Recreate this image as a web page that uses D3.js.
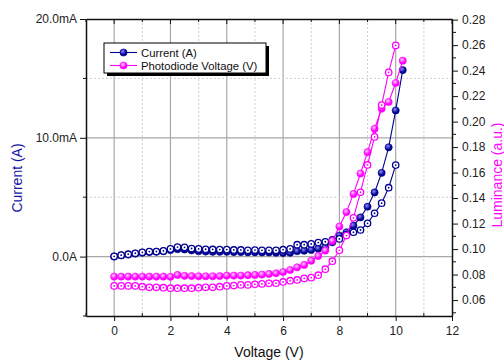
<!DOCTYPE html>
<html>
<head>
<meta charset="utf-8">
<script src="https://cdn.jsdelivr.net/npm/d3@7"></script>
<style>
  body { margin: 0; background: #fff; }
  svg { font-family: "Liberation Sans", Arial, sans-serif; }
</style>
</head>
<body>
<div id="chart"></div>
<script>
// sweep voltages (V)
const voltage = [0, 0.25, 0.5, 0.75, 1, 1.25, 1.5, 1.75, 2, 2.25, 2.5, 2.75, 3, 3.25, 3.5, 3.75,
  4, 4.25, 4.5, 4.75, 5, 5.25, 5.5, 5.75, 6, 6.25, 6.5, 6.75, 7, 7.25, 7.5, 7.75,
  8, 8.25, 8.5, 8.75, 9, 9.25, 9.5, 9.75, 10, 10.25];

// current, mA (filled = forward sweep, open = second sweep)
const currentFilled = [0.0, 0.1, 0.17, 0.25, 0.33, 0.38, 0.4, 0.45, 0.55, 0.62, 0.6, 0.52, 0.45, 0.42, 0.4, 0.4,
  0.4, 0.38, 0.38, 0.36, 0.36, 0.35, 0.35, 0.33, 0.3, 0.32, 0.45, 0.5, 0.56, 0.67, 0.79, 1.2,
  1.77, 2.05, 2.6, 3.3, 4.2, 5.4, 7.05, 9.2, 12.3, 15.7];
const currentOpen = [0.02, 0.12, 0.2, 0.28, 0.36, 0.42, 0.43, 0.48, 0.65, 0.8, 0.78, 0.68, 0.65, 0.62, 0.6, 0.59,
  0.59, 0.56, 0.56, 0.53, 0.55, 0.53, 0.53, 0.53, 0.58, 0.65, 1.0, 1.0, 1.07, 1.18, 1.25, 1.4,
  1.49, 1.85, 2.05, 2.24, 2.8, 3.65, 4.5, 5.8, 7.7];

// photodiode voltage / luminance (a.u.)
const lumFilled = [0.0784, 0.0784, 0.0784, 0.0784, 0.0784, 0.0784, 0.0784, 0.0784, 0.0782, 0.0797, 0.079, 0.0788, 0.0787, 0.0787, 0.0787, 0.0788,
  0.0792, 0.0792, 0.0792, 0.0795, 0.0797, 0.08, 0.0805, 0.081, 0.082, 0.0836, 0.0857, 0.0876, 0.0909, 0.0946, 0.0988, 0.1064,
  0.1177, 0.129, 0.1433, 0.1593, 0.176, 0.1944, 0.2101, 0.2154, 0.2303, 0.2478];
const lumOpen = [0.0711, 0.0711, 0.0711, 0.0711, 0.0705, 0.07, 0.07, 0.0697, 0.0693, 0.0693, 0.0693, 0.0693, 0.0697, 0.07, 0.07, 0.0705,
  0.0711, 0.0714, 0.0719, 0.0719, 0.0724, 0.0727, 0.0732, 0.0732, 0.0742, 0.0752, 0.0758, 0.077, 0.0776, 0.0795, 0.0842, 0.0905,
  0.099, 0.1106, 0.1245, 0.1446, 0.166, 0.188, 0.213, 0.2386, 0.2598];

const leftTicks = [0, 10, 20];
const leftTickLabels = ["0.0A", "10.0mA", "20.0mA"];
const rightTicks = [0.06, 0.08, 0.10, 0.12, 0.14, 0.16, 0.18, 0.20, 0.22, 0.24, 0.26, 0.28];
const xTicks = [0, 2, 4, 6, 8, 10, 12];
const legendLabels = ["Current (A)", "Photodiode Voltage (V)"];

const NAVY = "#00008f";
const MAGENTA = "#ff00ff";

const margin = {top: 19, right: 52, bottom: 46, left: 86};
const W = 504, H = 362;
const width = W - margin.left - margin.right;
const height = H - margin.top - margin.bottom;

const svg = d3.select("#chart").append("svg")
  .attr("width", W).attr("height", H);

const defs = svg.append("defs");
function sphere(id, light, base) {
  const grad = defs.append("radialGradient").attr("id", id)
    .attr("cx", "40%").attr("cy", "35%").attr("r", "65%");
  grad.append("stop").attr("offset", "0%").attr("stop-color", light);
  grad.append("stop").attr("offset", "70%").attr("stop-color", base);
}
sphere("navyBall", "#8c8cff", NAVY);
sphere("pinkBall", "#ffd0ff", MAGENTA);

const g = svg.append("g").attr("transform", `translate(${margin.left},${margin.top})`);

const x = d3.scaleLinear().domain([-1, 12]).range([0, width]);
const yL = d3.scaleLinear().domain([-5, 20]).range([height, 0]);
const yR = d3.scaleLinear().domain([0.0475, 0.2805]).range([height, 0]);

// grid
const grid = g.append("g");
d3.range(0, 12, 1).forEach(v => {
  grid.append("line")
    .attr("x1", x(v)).attr("x2", x(v)).attr("y1", 0).attr("y2", height)
    .attr("stroke", v % 2 === 0 ? "#a8a8a8" : "#cfcfcf")
    .attr("stroke-width", v % 2 === 0 ? 1.2 : 1)
    .attr("stroke-dasharray", v % 2 === 0 ? null : "2,2");
});
[0, 5, 10, 15].forEach(v => {
  grid.append("line")
    .attr("x1", 0).attr("x2", width).attr("y1", yL(v)).attr("y2", yL(v))
    .attr("stroke", v % 10 === 0 ? "#a8a8a8" : "#cfcfcf")
    .attr("stroke-width", v % 10 === 0 ? 1.2 : 1)
    .attr("stroke-dasharray", v % 10 === 0 ? null : "2,2");
});

// axes
const axisColor = "#111";
const fontSize = "12px";

const axBottom = g.append("g").attr("transform", `translate(0,${height})`)
  .call(d3.axisBottom(x).tickValues(xTicks).tickSize(5).tickSizeOuter(0).tickPadding(5));
axBottom.append("g").selectAll("line").data([-1, 1, 3, 5, 7, 9, 11]).join("line")
  .attr("x1", d => x(d)).attr("x2", d => x(d)).attr("y1", 0).attr("y2", -3)
  .attr("stroke", axisColor);

const axTop = g.append("g")
  .call(d3.axisTop(x).tickValues(d3.range(-1, 13)).tickSize(0).tickFormat(""));
axTop.append("g").selectAll("line").data(d3.range(-1, 13)).join("line")
  .attr("x1", d => x(d)).attr("x2", d => x(d)).attr("y1", 0)
  .attr("y2", d => d % 2 === 0 ? 5 : 3)
  .attr("stroke", axisColor);

const axLeft = g.append("g")
  .call(d3.axisLeft(yL).tickValues(leftTicks).tickSize(6).tickSizeOuter(0).tickPadding(3)
    .tickFormat((d, i) => leftTickLabels[i]));
axLeft.append("g").selectAll("line").data([-5, 5, 15]).join("line")
  .attr("x1", -3).attr("x2", 0).attr("y1", d => yL(d)).attr("y2", d => yL(d))
  .attr("stroke", axisColor);

const axRight = g.append("g").attr("transform", `translate(${width},0)`)
  .call(d3.axisRight(yR).tickValues(rightTicks).tickSize(6).tickSizeOuter(0).tickPadding(4)
    .tickFormat(d3.format(".2f")));
axRight.append("g").selectAll("line").data([0.05, 0.07, 0.09, 0.11, 0.13, 0.15, 0.17, 0.19, 0.21, 0.23, 0.25, 0.27]).join("line")
  .attr("x1", 0).attr("x2", 4).attr("y1", d => yR(d)).attr("y2", d => yR(d))
  .attr("stroke", axisColor);

[axBottom, axTop, axLeft, axRight].forEach(a => {
  a.select(".domain").attr("stroke", axisColor).attr("stroke-width", 1.5);
  a.selectAll(".tick line").attr("stroke", axisColor);
  a.selectAll(".tick text").attr("font-size", fontSize).attr("fill", "#222")
    .attr("font-family", "'Liberation Sans', Arial, sans-serif");
});

// series
function series(ys, scaleY, color, filled, ball) {
  const pts = ys.map((v, i) => [voltage[i], v]);
  const sg = g.append("g");
  sg.append("path").datum(pts)
    .attr("fill", "none").attr("stroke", color).attr("stroke-width", 1.1)
    .attr("d", d3.line().x(d => x(d[0])).y(d => scaleY(d[1])));
  const m = sg.selectAll("g.pt").data(pts).join("g")
    .attr("transform", d => `translate(${x(d[0])},${scaleY(d[1])})`);
  if (filled) {
    m.append("circle").attr("r", 3.6).attr("fill", `url(#${ball})`)
      .attr("stroke", color).attr("stroke-width", 0.6);
  } else {
    m.append("circle").attr("r", 3.2).attr("fill", "#fff")
      .attr("stroke", color).attr("stroke-width", 1.3);
    m.append("circle").attr("r", 0.9).attr("fill", color);
  }
}
series(currentFilled, yL, NAVY, true, "navyBall");
series(currentOpen, yL, NAVY, false);
series(lumFilled, yR, MAGENTA, true, "pinkBall");
series(lumOpen, yR, MAGENTA, false);

// axis titles
svg.append("text")
  .attr("x", margin.left + x(5.5)).attr("y", 357)
  .attr("text-anchor", "middle").attr("font-size", "14px").attr("fill", "#111")
  .text("Voltage (V)");
svg.append("text")
  .attr("transform", "translate(22,178) rotate(-90)")
  .attr("text-anchor", "middle").attr("font-size", "14px").attr("fill", "#1414a8")
  .text("Current (A)");
svg.append("text")
  .attr("transform", "translate(502,175) rotate(-90)")
  .attr("text-anchor", "middle").attr("font-size", "14px").attr("fill", MAGENTA)
  .text("Luminance (a.u.)");

// legend
const lg = svg.append("g").attr("transform", "translate(104,43)");
lg.append("rect").attr("x", 3).attr("y", 3).attr("width", 162).attr("height", 30).attr("fill", "#000");
lg.append("rect").attr("x", 0).attr("y", 0).attr("width", 162).attr("height", 30)
  .attr("fill", "#fff").attr("stroke", "#000").attr("stroke-width", 1);
[[NAVY, "navyBall"], [MAGENTA, "pinkBall"]].forEach((c, i) => {
  const row = lg.append("g").attr("transform", `translate(0,${9.5 + i * 13})`);
  row.append("line").attr("x1", 6).attr("x2", 33).attr("stroke", c[0]).attr("stroke-width", 1.1);
  row.append("circle").attr("cx", 19.5).attr("r", 3.6).attr("fill", `url(#${c[1]})`)
    .attr("stroke", c[0]).attr("stroke-width", 0.6);
  row.append("text").attr("x", 37).attr("y", 4.2).attr("font-size", "11.3px").attr("fill", "#111")
    .text(legendLabels[i]);
});
</script>
</body>
</html>
